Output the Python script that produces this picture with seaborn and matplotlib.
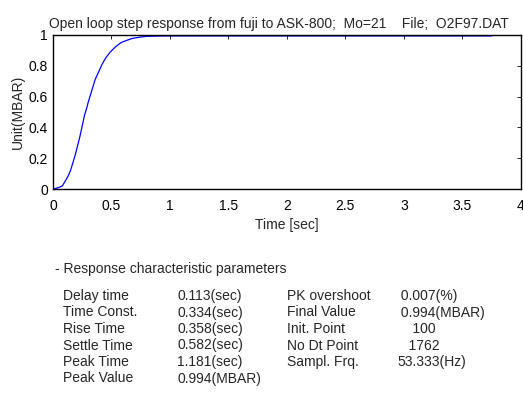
import matplotlib
matplotlib.use('Agg')
import matplotlib.pyplot as plt
import seaborn as sns
import pandas as pd

sns.set_theme(style='white')
plt.rcParams['font.family'] = ['Liberation Sans', 'DejaVu Sans']

# step response
time_s = [0.0, 0.03, 0.06, 0.08, 0.10, 0.13, 0.15, 0.17, 0.19, 0.21, 0.23, 0.25, 0.27,
          0.29, 0.30, 0.32, 0.34, 0.36, 0.39, 0.42, 0.45, 0.49, 0.53, 0.58, 0.63, 0.68,
          0.74, 0.80, 0.90, 1.0, 1.5, 2.0, 2.5, 3.0, 3.5, 3.75]
response = [0.0, 0.005, 0.013, 0.02, 0.045, 0.085, 0.12, 0.17, 0.22, 0.28, 0.34, 0.41, 0.48,
            0.53, 0.56, 0.61, 0.66, 0.71, 0.76, 0.81, 0.85, 0.89, 0.92, 0.95, 0.965, 0.978,
            0.986, 0.991, 0.993, 0.994, 0.994, 0.994, 0.994, 0.994, 0.994, 0.994]

title = 'Open loop step response from fuji to ASK-800;  Mo=21    File;  O2F97.DAT'

param_names_1 = ['Delay time', 'Time Const.', 'Rise Time', 'Settle Time', 'Peak Time', 'Peak Value']
param_values_1 = ['0.113(sec)', '0.334(sec)', '0.358(sec)', '0.582(sec)', '1.181(sec)', '0.994(MBAR)']
param_names_2 = ['PK overshoot', 'Final Value', 'Init. Point', 'No Dt Point', 'Sampl. Frq.']
param_values_2 = [' 0.007(%)', ' 0.994(MBAR)', '    100', '   1762', '53.333(Hz)']

df = pd.DataFrame({'Time': time_s, 'Value': response})

fig = plt.figure(figsize=(5.23, 3.94), dpi=100)
ax = fig.add_axes([0.1013, 0.5203, 0.8947, 0.3909])
sns.lineplot(data=df, x='Time', y='Value', ax=ax, color='#0000ff', linewidth=0.9)

ax.set_xlim(0, 4)
ax.set_ylim(0, 1)
ax.set_xticks([0, 0.5, 1, 1.5, 2, 2.5, 3, 3.5, 4])
ax.set_xticklabels(['0', '0.5', '1', '1.5', '2', '2.5', '3', '3.5', '4'])
ax.set_yticks([0, 0.2, 0.4, 0.6, 0.8, 1])
ax.set_yticklabels(['0', '0.2', '0.4', '0.6', '0.8', '1'])
ax.tick_params(direction='in', top=True, right=True, length=3, width=0.6,
               labelsize=10, colors='black')
ax.tick_params(axis='x', pad=7)
ax.tick_params(axis='y', pad=3.5)
for s in ax.spines.values():
    s.set_color('black')
    s.set_linewidth(1.0)
ax.set_xlabel('Time [sec]', fontsize=10, labelpad=4)
ax.set_ylabel('Unit(MBAR)', fontsize=10, labelpad=3)
ax.set_title(title, fontsize=10, pad=5, x=0.482)

fs = 10
fig.text(55 / 523, 1 - 269 / 394, '- Response characteristic parameters', fontsize=fs, va='center')
row_y = [296, 312.5, 329, 345.5, 362, 378.5]
for i, (n, v) in enumerate(zip(param_names_1, param_values_1)):
    y = 1 - row_y[i] / 394
    fig.text(63 / 523, y, n, fontsize=fs, va='center')
    fig.text(177 / 523, y, v, fontsize=fs, va='center')
for i, (n, v) in enumerate(zip(param_names_2, param_values_2)):
    y = 1 - row_y[i] / 394
    fig.text(287 / 523, y, n, fontsize=fs, va='center')
    fig.text(397 / 523, y, v, fontsize=fs, va='center')

fig.savefig('out.png', dpi=100)
